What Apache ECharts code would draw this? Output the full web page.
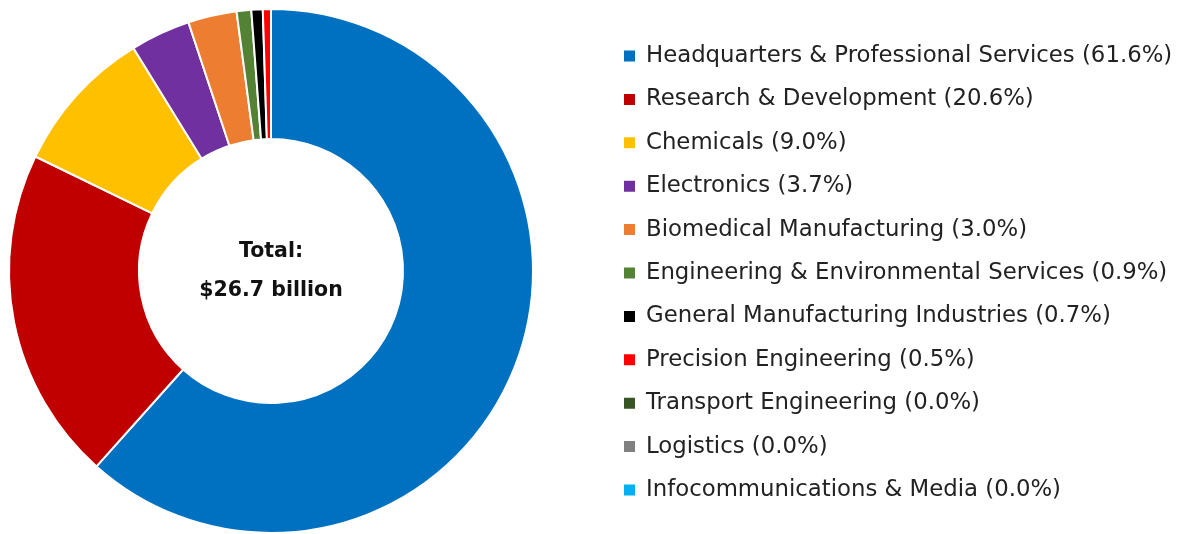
<!DOCTYPE html>
<html><head><meta charset="utf-8">
<script src="https://cdn.jsdelivr.net/npm/echarts@6/dist/echarts.min.js"></script>
<style>html,body{margin:0;padding:0;background:#fff}#c{width:1183px;height:534px}</style>
</head><body><div id="c"></div>
<script>
const categories = ["Headquarters & Professional Services","Research & Development","Chemicals","Electronics","Biomedical Manufacturing","Engineering & Environmental Services","General Manufacturing Industries","Precision Engineering","Transport Engineering","Logistics","Infocommunications & Media"];
const shares = [61.6,20.6,9.0,3.7,3.0,0.9,0.7,0.5,0.0,0.0,0.0];
const colors = ["#0070C0","#C00000","#FFC000","#7030A0","#ED7D31","#548235","#000000","#FF0000","#375623","#808080","#00B0F0"];
const centerText = ["Total:","$26.7 billion"];
const FONT = "DejaVu Sans";
const chart = echarts.init(document.getElementById('c'));
const lookup = {};
categories.forEach((c,i)=>lookup[c]=shares[i]);
chart.setOption({
  animation:false,
  color: colors,
  legend:{
    orient:'vertical', left:617, top:38,
    itemWidth:13, itemHeight:13, itemGap:17.4,
    icon:'rect',
    textStyle:{fontFamily:FONT, fontSize:22.8, color:'#222', lineHeight:26, padding:[0,0,0,5]},
    formatter: n => `${n} (${lookup[n].toFixed(1)}%)`,
    data: categories
  },
  series:[{
    type:'pie', center:[271,271], radius:[132,262],
    startAngle:90, clockwise:true,
    label:{show:true, position:'center', formatter:()=>centerText.join('\n'), fontFamily:FONT, fontWeight:'bold', fontSize:20.5, lineHeight:39, color:'#111'},
    labelLine:{show:false},
    emphasis:{disabled:true},
    itemStyle:{borderColor:'#fff', borderWidth:2},
    data: categories.map((c,i)=>({name:c, value:shares[i]}))
  }]
});
</script></body></html>
